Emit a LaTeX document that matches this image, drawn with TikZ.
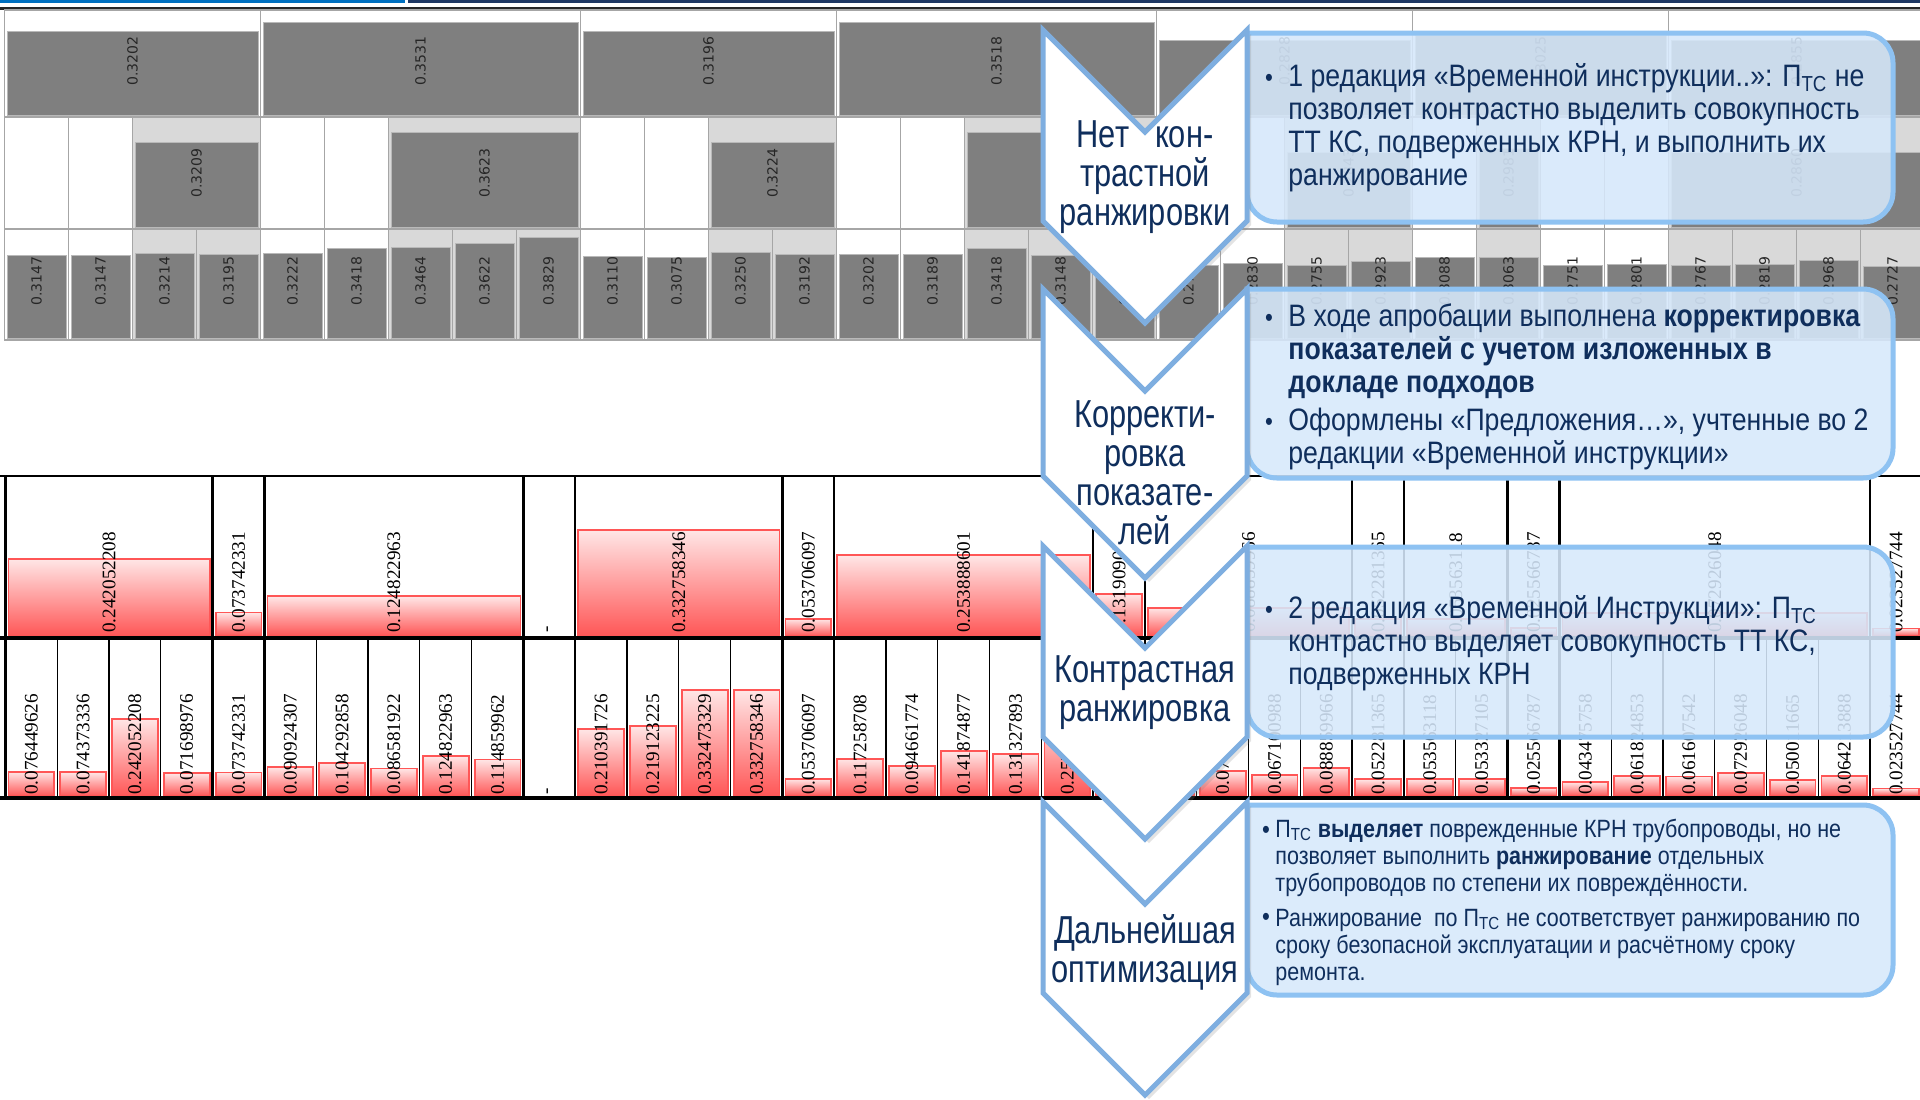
\documentclass[tikz,border=0pt]{standalone}
\usepackage{fontspec}
\setmainfont{Liberation Serif}
\newfontfamily\boxfont{Liberation Sans}[FakeStretch=0.86]
\newfontfamily\arrowfont{Liberation Sans}[FakeStretch=0.79]
\newfontfamily\chartfont{DejaVu Sans}
\usetikzlibrary{shadows}

\definecolor{navy}{HTML}{0F2E5C}
\definecolor{arrowblue}{HTML}{7EAEE0}
\definecolor{boxblue}{HTML}{8EC2F2}
\definecolor{boxfill}{HTML}{D6E8FB}
\definecolor{bargray}{HTML}{7F7F7F}
\definecolor{headgray}{HTML}{D9D9D9}
\definecolor{gridgray}{HTML}{A6A6A6}
\definecolor{barred}{HTML}{FF5656}
\definecolor{barpink}{HTML}{FFE6E6}
\definecolor{topblue}{HTML}{0070C0}
\definecolor{topnavy}{HTML}{1F3864}

\newcommand{\Ptc}{П\textsubscript{ТС}}
\newcommand{\chevronpath}[2]{(1043,#1) -- (1145,#1+102) -- (1247,#1) -- (1247,#2) -- (1145,#2+102) -- (1043,#2) -- cycle}

\begin{document}
\begin{tikzpicture}[x=0.5pt, y=-0.5pt,
    gridline/.style={draw=gridgray, line width=0.8pt},
    graybar/.style={fill=bargray, draw=gray!55, line width=0.5pt},
    glabel/.style={rotate=90, anchor=west, inner sep=0pt, text=black!85,
      font=\chartfont\fontsize{7}{8}\selectfont},
    redbar/.style={top color=barpink, bottom color=barred, draw=barred, line width=0.9pt},
    rlabel/.style={rotate=90, anchor=west, inner sep=0pt,
      font=\fontsize{9.6}{10}\selectfont},
    chevron/.style={fill=white, draw=arrowblue, line width=2.5pt,
      drop shadow={opacity=0.22, shadow xshift=2pt, shadow yshift=-2pt}},
    infobox/.style={fill=boxfill, fill opacity=0.88, draw=boxblue, line width=2.5pt},
    arrowtext/.style={text=navy, align=center, inner sep=0pt,
      font=\arrowfont\fontsize{19.5}{19.5}\selectfont},
    boxtext/.style={text=navy, align=left, anchor=base west, inner sep=0pt,
      font=\boxfont\fontsize{15.5}{16.5}\selectfont},
    smalltext/.style={boxtext, font=\boxfont\fontsize{12.5}{13.5}\selectfont},
    bullet/.style={text=navy, anchor=base, inner sep=0pt, font=\boxfont\fontsize{13}{13}\selectfont}]

    \useasboundingbox (0,0) rectangle (1920,1099);
    \clip (0,0) rectangle (1920,1099);

    % header lines
    \fill[topblue] (0,0) rectangle (405,3);
    \fill[topnavy] (408,0) rectangle (1920,3);
    \draw[black!85, line width=1.5pt] (0,8) -- (1920,8);

    % gray chart, row 1
    \foreach \a/\n/\v in {1/4/0.3202, 5/5/0.3531, 10/4/0.3196, 14/5/0.3518,
                          19/4/0.2828, 23/4/0.3025, 27/4/0.2855} {
        \pgfmathsetmacro\xl{4.5+64*(\a-1)}
        \pgfmathsetmacro\xr{\xl+64*\n}
        \draw[gridline, fill=white] (\xl,10) rectangle (\xr,117);
        \draw[graybar] (\xl+2.5,115) rectangle (\xr-2.5,115-262*\v);
        \node[glabel] (g1-\a) at ({(\xl+\xr)/2},86) {\v};
    }

    % gray chart, row 2
    \foreach \i in {1,...,30} {
        \pgfmathsetmacro\xl{4.5+64*(\i-1)}
        \draw[gridline, fill=white] (\xl,117) rectangle ++(64,112);
    }
    \foreach \a/\n/\v/\t in {3/2/0.3209/0.3209, 7/3/0.3623/0.3623, 12/2/0.3224/0.3224,
                             16/3/0.3612/{}, 21/2/0.2843/0.2843, 24/1/0.2981/0.2981,
                             27/4/0.2860/0.2860} {
        \pgfmathsetmacro\xl{4.5+64*(\a-1)}
        \pgfmathsetmacro\xr{\xl+64*\n}
        \draw[gridline, fill=headgray] (\xl,117) rectangle (\xr,229);
        \draw[graybar] (\xl+2.5,227) rectangle (\xr-2.5,227-262*\v);
        \node[glabel] (g2-\a) at ({(\xl+\xr)/2},198) {\t};
    }

    % gray chart, row 3
    \foreach \v/\h [count=\i] in {0.3147/white, 0.3147/white, 0.3214/headgray, 0.3195/headgray,
            0.3222/white, 0.3418/white, 0.3464/headgray, 0.3622/headgray, 0.3829/headgray,
            0.3110/white, 0.3075/white, 0.3250/headgray, 0.3192/headgray, 0.3202/white,
            0.3189/white, 0.3418/headgray, 0.3148/headgray, 0.2796/headgray, 0.2768/white,
            0.2830/white, 0.2755/headgray, 0.2923/headgray, 0.3088/white, 0.3063/headgray,
            0.2751/white, 0.2801/white, 0.2767/headgray, 0.2819/headgray, 0.2968/headgray,
            0.2727/headgray} {
        \pgfmathsetmacro\xl{4.5+64*(\i-1)}
        \draw[gridline, fill=\h] (\xl,229) rectangle ++(64,111);
        \draw[graybar] (\xl+2.5,338) rectangle (\xl+61.5,338-262*\v);
        \node[glabel] (g3-\i) at (\xl+32,306) {\v};
    }

    % red chart, bottom row
    \foreach \i in {1,...,37} {
        \pgfmathsetmacro\xl{5.4+51.8*(\i-1)}
        \draw[black, line width=0.6pt] (\xl,638) -- (\xl,798);
    }
    \foreach \v/\t [count=\i] in {0.076449626/0.076449626, 0.074373336/0.074373336,
            0.242052208/0.242052208, 0.071698976/0.071698976, 0.073742331/0.073742331,
            0.090924307/0.090924307, 0.104292858/0.104292858, 0.086581922/0.086581922,
            0.124822963/0.124822963, 0.114859962/0.114859962, 0/-,
            0.210391726/0.210391726, 0.219123225/0.219123225, 0.332473329/0.332473329,
            0.332758346/0.332758346, 0.053706097/0.053706097, 0.117258708/0.117258708,
            0.094661774/0.094661774, 0.141874877/0.141874877, 0.131327893/0.131327893,
            0.253888601/0.253888601, 0.131909056/{}, 0.071502483/{},
            0.077468513/0.077468513, 0.067100988/0.067100988, 0.088859966/0.088859966,
            0.052281365/0.052281365, 0.053563118/0.053563118, 0.053327105/0.053327105,
            0.025566787/0.025566787, 0.043475758/0.043475758, 0.061824853/0.061824853,
            0.061607542/0.061607542, 0.072926048/0.072926048, 0.050011665/0.050011665,
            0.064213888/0.064213888, 0.023527744/0.023527744} {
        \pgfmathsetmacro\xl{5.4+51.8*(\i-1)}
        \ifdim \v pt>0pt
            \draw[redbar] (\xl+3,796) rectangle (\xl+48.8,796-318*\v);
        \fi
        \node[rlabel] (r2-\i) at (\xl+25.9,795) {\t};
    }

    % red chart, top row
    \foreach \a/\n/\v/\t in {1/4/0.242052208/0.242052208, 5/1/0.073742331/0.073742331,
            6/5/0.124822963/0.124822963, 11/1/0/-, 12/4/0.332758346/0.332758346,
            16/1/0.053706097/0.053706097, 17/5/0.253888601/0.253888601,
            22/1/0.131909056/0.131909056, 23/4/0.088859966/0.088859966,
            27/1/0.052281365/0.052281365, 28/2/0.053563118/0.053563118,
            30/1/0.025566787/0.025566787, 31/6/0.072926048/0.072926048,
            37/1/0.023527744/0.023527744} {
        \pgfmathsetmacro\xl{5.4+51.8*(\a-1)}
        \pgfmathsetmacro\xr{\xl+51.8*\n}
        \ifdim \v pt>0pt
            \draw[redbar] (\xl+3,636) rectangle (\xr-3,636-318*\v);
        \fi
        \node[rlabel] (r1-\a) at ({(\xl+\xr)/2},633) {\t};
        \draw[black, line width=1.2pt] (\xl,476) -- (\xl,798);
    }
    \draw[black, line width=1.4pt] (0,476) -- (1920,476);
    \draw[black, line width=1.6pt] (0,638) -- (1920,638);
    \draw[black, line width=1.6pt] (0,798) -- (1920,798);

    % info boxes
    \foreach \t/\b in {33/222, 289/478, 547/737, 805/995} {
        \draw[infobox] (1247,\t) [rounded corners=15pt] -- (1893,\t) -- (1893,\b)
            -- (1247,\b) [sharp corners] -- cycle;
    }

    % chevrons
    \draw[chevron] \chevronpath{30}{221};
    \draw[chevron] \chevronpath{289}{476};
    \draw[chevron] \chevronpath{546}{737};
    \draw[chevron] \chevronpath{802}{993};

    \node[arrowtext] (a1) at (1145,177) {Нет\hspace{13pt}кон-\\трастной\\ранжировки};
    \node[arrowtext] (a2) at (1145,473) {Корректи-\\ровка\\показате-\\лей};
    \node[arrowtext] (a3) at (1145,693) {Контрастная\\ранжировка};
    \node[arrowtext] (a4) at (1145,952) {Дальнейшая\\оптимизация};

    % box texts (base = last line)
    \node[bullet] (d1) at (1269,86) {•};
    \node[boxtext] (t1) at (1288,185) {1 редакция «Временной инструкции..»: \Ptc{} не\\
        позволяет контрастно выделить совокупность\\
        ТТ КС, подверженных КРН, и выполнить их\\
        ранжирование};

    \node[bullet] (d2) at (1269,326) {•};
    \node[boxtext] (t2) at (1288,392) {В ходе апробации выполнена \textbf{корректировка}\\
        \textbf{показателей с учетом изложенных в}\\
        \textbf{докладе подходов}};
    \node[bullet] (d3) at (1269,430) {•};
    \node[boxtext] (t3) at (1288,463) {Оформлены «Предложения…», учтенные во 2\\
        редакции «Временной инструкции»};

    \node[bullet] (d4) at (1269,618) {•};
    \node[boxtext] (t4) at (1288,684) {2 редакция «Временной Инструкции»: \Ptc\\
        контрастно выделяет совокупность ТТ КС,\\
        подверженных КРН};

    \node[bullet] (d5) at (1266,838) {•};
    \node[smalltext] (t5) at (1275,891) {\Ptc{} \textbf{выделяет} поврежденные КРН трубопроводы, но не\\
        позволяет выполнить \textbf{ранжирование} отдельных\\
        трубопроводов по степени их повреждённости.};
    \node[bullet] (d6) at (1266,925) {•};
    \node[smalltext] (t6) at (1275,980) {Ранжирование\ \ по \Ptc{} не соответствует ранжированию по\\
        сроку безопасной эксплуатации и расчётному сроку\\
        ремонта.};

\end{tikzpicture}
\end{document}
